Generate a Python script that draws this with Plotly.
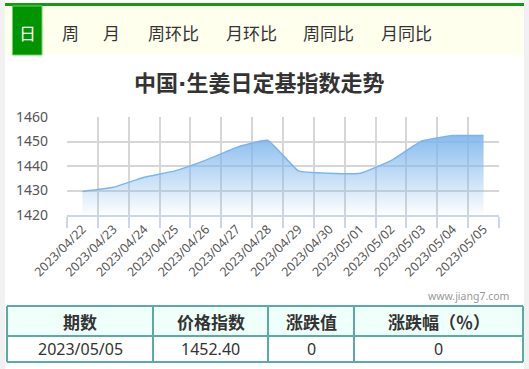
import plotly.graph_objects as go

# ---- data ----
dates = ["2023/04/22", "2023/04/23", "2023/04/24", "2023/04/25", "2023/04/26",
         "2023/04/27", "2023/04/28", "2023/04/29", "2023/04/30", "2023/05/01",
         "2023/05/02", "2023/05/03", "2023/05/04", "2023/05/05"]
index_values = [1429.6, 1431.3, 1435.4, 1438.0, 1442.4, 1447.6, 1450.5,
                1438.0, 1437.0, 1437.0, 1442.2, 1450.2, 1452.4, 1452.4]
y_ticks = [1420, 1430, 1440, 1450, 1460]
tabs = ["日", "周", "月", "周环比", "月环比", "周同比", "月同比"]
title_left = "中国"
title_right = "生姜日定基指数走势"
table_header = ["期数", "价格指数", "涨跌值", "涨跌幅（％）"]
table_row = ["2023/05/05", "1452.40", "0", "0"]
watermark = "www.jiang7.com"

W, H = 529, 369
PL, PR, PT, PB = 67, 499, 117, 215  # plot area in pixels


def px(x):
    return (x - PL) / (PR - PL)


def py(y):
    return (PB - y) / (PB - PT)


CJK = "Noto Sans CJK SC"

fig = go.Figure()
fig.add_trace(go.Scatter(
    x=dates, y=index_values, mode="lines",
    line=dict(color="#7cb5ec", width=1.5, shape="spline", smoothing=0.35),
    fill="tozeroy",
    fillgradient=dict(type="vertical", start=1420, stop=1456,
                      colorscale=[[0, "rgba(124,181,236,0.02)"],
                                  [1, "rgba(124,181,236,1)"]]),
    hoverinfo="x+y", showlegend=False,
))

shapes = []
annotations = []

# side strips
shapes.append(dict(type="rect", xref="paper", yref="paper", x0=px(0), x1=px(5),
                   y0=py(H), y1=py(0), fillcolor="#f1f1f1", line_width=0, layer="below"))
shapes.append(dict(type="rect", xref="paper", yref="paper", x0=px(524), x1=px(W),
                   y0=py(H), y1=py(0), fillcolor="#f1f1f1", line_width=0, layer="below"))
# tab bar
shapes.append(dict(type="rect", xref="paper", yref="paper", x0=px(5), x1=px(523),
                   y0=py(55), y1=py(5.5), fillcolor="#ffffee", line_width=0, layer="below"))
shapes.append(dict(type="rect", xref="paper", yref="paper", x0=px(5), x1=px(524),
                   y0=py(6), y1=py(3), fillcolor="#109d10", line_width=0, layer="below"))
shapes.append(dict(type="rect", xref="paper", yref="paper", x0=px(12.5), x1=px(42),
                   y0=py(55), y1=py(6), fillcolor="#009400",
                   line=dict(color="#6ccf6c", width=1), layer="below"))

tab_x = [27, 70, 111, 173, 251, 328, 406]
for i, t in enumerate(tabs):
    annotations.append(dict(xref="paper", yref="paper", x=px(tab_x[i]), y=py(32),
                            text=t, showarrow=False, xanchor="center", yanchor="middle",
                            font=dict(family=CJK, size=17,
                                      color="#ffffff" if i == 0 else "#333333")))

# title (narrow middle dot)
title_html = ("<b>" + title_left +
              "<span style=\"font-family:'DejaVu Sans'\">·</span>" +
              title_right + "</b>")
annotations.append(dict(xref="paper", yref="paper", x=px(259), y=py(81),
                        text=title_html, showarrow=False,
                        xanchor="center", yanchor="middle",
                        font=dict(family=CJK, size=22, color="#333333")))

# watermark
annotations.append(dict(xref="paper", yref="paper", x=px(511), y=py(296),
                        text=watermark, showarrow=False, xanchor="right", yanchor="middle",
                        font=dict(family="Noto Sans", size=10.5, color="#999999")))

# table
tb_x = [7, 153, 268, 354, 523]
tb_y = [306, 336, 362]
border = "#5aaba4"
shapes.append(dict(type="rect", xref="paper", yref="paper", x0=px(tb_x[0]), x1=px(tb_x[-1]),
                   y0=py(tb_y[1]), y1=py(tb_y[0]), fillcolor="#effffa", line_width=0))
for yy in tb_y:
    shapes.append(dict(type="line", xref="paper", yref="paper", x0=px(tb_x[0]), x1=px(tb_x[-1]),
                       y0=py(yy), y1=py(yy), line=dict(color=border, width=2)))
for xx in tb_x:
    shapes.append(dict(type="line", xref="paper", yref="paper", x0=px(xx), x1=px(xx),
                       y0=py(tb_y[0]), y1=py(tb_y[-1]), line=dict(color=border, width=2)))
for i in range(4):
    cx = (tb_x[i] + tb_x[i + 1]) / 2
    annotations.append(dict(xref="paper", yref="paper", x=px(cx), y=py(321),
                            text="<b>" + table_header[i] + "</b>", showarrow=False,
                            xanchor="center", yanchor="middle",
                            font=dict(family=CJK, size=17, color="#333333")))
    annotations.append(dict(xref="paper", yref="paper", x=px(cx), y=py(349),
                            text=table_row[i], showarrow=False,
                            xanchor="center", yanchor="middle",
                            font=dict(family="Noto Sans", size=16, color="#333333")))

fig.update_layout(
    width=W, height=H,
    margin=dict(l=PL, r=W - PR, t=PT, b=H - PB, pad=0),
    paper_bgcolor="#ffffff", plot_bgcolor="#ffffff",
    shapes=shapes, annotations=annotations,
    xaxis=dict(type="category", tickson="boundaries", ticks="outside", ticklen=11,
               tickcolor="#ccd6eb", tickwidth=1.5, showgrid=True, gridcolor="#d6d6d6",
               gridwidth=1.5, showline=True, linecolor="#ccd6eb", linewidth=2,
               tickangle=-45, tickfont=dict(family="Noto Sans", size=12.5, color="#555555"),
               range=[-0.5, len(dates) - 0.5], fixedrange=True, mirror=False),
    yaxis=dict(range=[1420, 1460], tickvals=y_ticks, showgrid=True, gridcolor="#d6d6d6",
               gridwidth=1.5, zeroline=False, showline=False, ticks="",
               ticklabelstandoff=18,
               tickfont=dict(family="Noto Sans", size=14, color="#555555"),
               fixedrange=True),
)

fig.write_html("out.html", config={"displayModeBar": False})
